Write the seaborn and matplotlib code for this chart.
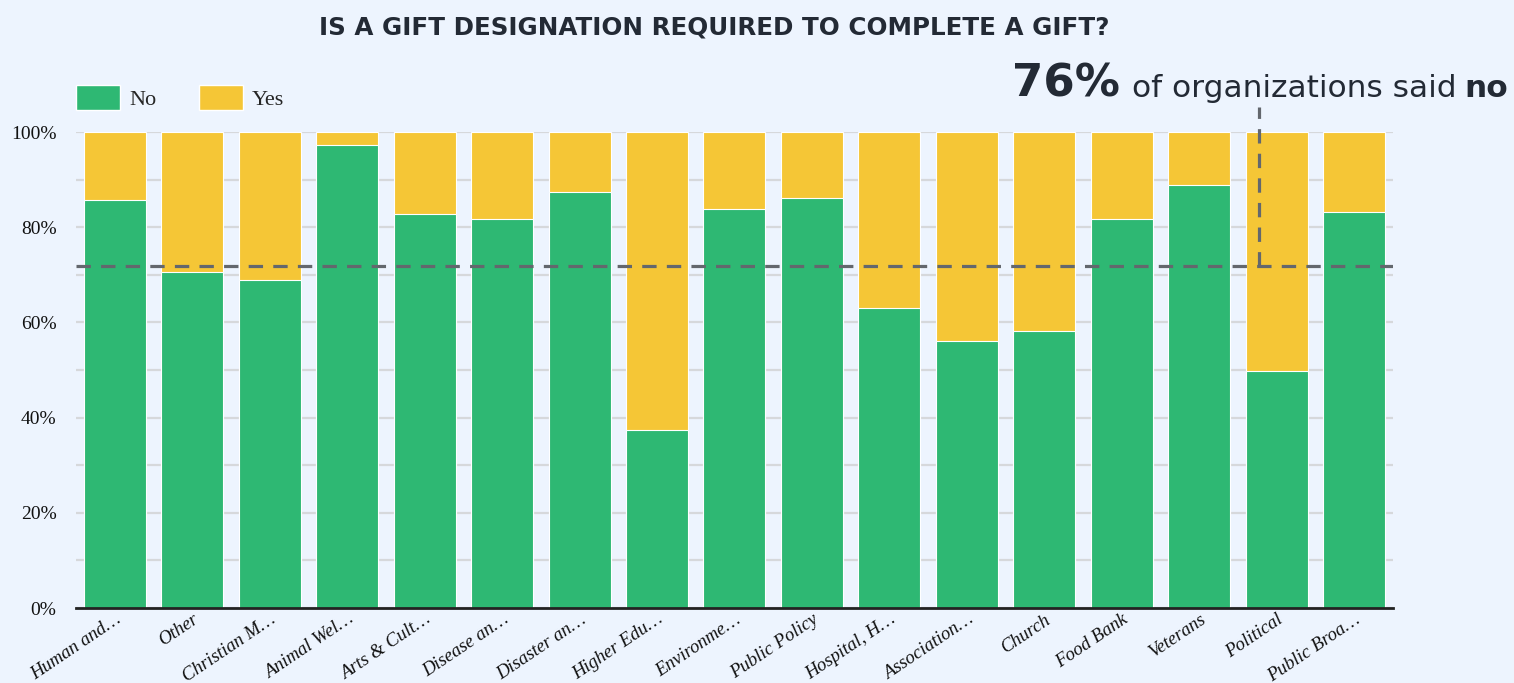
import matplotlib
matplotlib.use("Agg")
import matplotlib.pyplot as plt
import matplotlib.patches as mpatches
import seaborn as sns
import pandas as pd

categories = ["Human and…", "Other", "Christian M…", "Animal Wel…", "Arts & Cult…",
              "Disease an…", "Disaster an…", "Higher Edu…", "Environme…", "Public Policy",
              "Hospital, H…", "Association…", "Church", "Food Bank", "Veterans",
              "Political", "Public Broa…"]
no_values = [85.7, 70.6, 68.9, 97.3, 82.8, 81.7, 87.4, 37.4, 83.8, 86.1,
             63.0, 56.1, 58.2, 81.7, 88.9, 49.8, 83.2]
yes_values = [100 - v for v in no_values]
y_ticks = [0, 20, 40, 60, 80, 100]
y_tick_labels = ["0%", "20%", "40%", "60%", "80%", "100%"]
avg_line = 71.8
title = "IS A GIFT DESIGNATION REQUIRED TO COMPLETE A GIFT?"

df = pd.DataFrame({"category": categories, "No": no_values, "Yes": yes_values})
df["total"] = df["No"] + df["Yes"]

BG = "#EDF4FE"
GREEN = "#2EB873"
YELLOW = "#F5C636"
DARK = "#232A35"
SERIF = ["Liberation Serif", "DejaVu Serif"]
SANS = ["DejaVu Sans"]

sns.set_theme(style="white")
plt.rcParams["font.family"] = "serif"
plt.rcParams["font.serif"] = SERIF

fig = plt.figure(figsize=(15.14, 6.83), dpi=100, facecolor=BG)
ax = fig.add_axes([0.0502, 0.1098, 0.8698, 0.6969])
ax.set_facecolor(BG)

sns.barplot(data=df, x="category", y="total", color=YELLOW, width=0.8,
            edgecolor="white", linewidth=0.8, saturation=1, ax=ax)
sns.barplot(data=df, x="category", y="No", color=GREEN, width=0.8,
            edgecolor="white", linewidth=0.8, saturation=1, ax=ax)

ax.set_xlim(-0.5, len(categories) - 0.5)
ax.set_ylim(0, 100)
ax.set_yticks(y_ticks)
ax.set_yticklabels(y_tick_labels, fontsize=14, family=SERIF, color="#111111")
ax.set_yticks(list(range(10, 100, 20)), minor=True)
ax.grid(axis="y", which="both", color="#D6D8DB", linewidth=1.6)
ax.set_axisbelow(True)
ax.tick_params(axis="y", length=0, pad=14)
ax.tick_params(axis="x", length=0, pad=2)
ax.set_xticks(range(len(categories)))
ax.set_xticklabels(categories, rotation=34, ha="right", rotation_mode="anchor",
                   fontsize=13.5, style="italic", family=SERIF, color="#111111")
ax.set_xlabel("")
ax.set_ylabel("")
for s in ["top", "right", "left"]:
    ax.spines[s].set_visible(False)
ax.spines["bottom"].set_color("#222222")
ax.spines["bottom"].set_linewidth(2)

# average dashed line
ax.axhline(avg_line, color="#63676D", linewidth=2.3, linestyle=(0, (4.5, 3.2)), zorder=5)
ax.plot([14.77, 14.77], [avg_line, 105.3], color="#63676D", linewidth=2.3,
        linestyle=(0, (4.5, 3.2)), clip_on=False, zorder=5)

# legend
handles = [mpatches.Patch(facecolor=GREEN, edgecolor="white", label="No"),
           mpatches.Patch(facecolor=YELLOW, edgecolor="white", label="Yes")]
fig.legend(handles=handles, loc="upper left", bbox_to_anchor=(0.037, 0.905),
           ncol=2, frameon=False, prop={"family": SERIF, "size": 16},
           handlelength=2.0, handleheight=1.35,
           columnspacing=1.9, handletextpad=0.4)

fig.text(0.472, 0.96, title, ha="center", va="center", fontsize=17.7,
         fontweight="bold", color=DARK, family=SANS)

t2 = fig.text(0.996, 0.858, "no", ha="right", va="baseline", fontsize=22.5,
              fontweight="bold", color=DARK, family=SANS)
fig.canvas.draw()
r = fig.canvas.get_renderer()
bb = t2.get_window_extent(r)
x2 = fig.transFigure.inverted().transform((bb.x0, 0))[0]
t1 = fig.text(x2 - 0.005, 0.858, "of organizations said", ha="right", va="baseline",
              fontsize=22.5, color=DARK, family=SANS)
bb = t1.get_window_extent(r)
x1 = fig.transFigure.inverted().transform((bb.x0, 0))[0]
fig.text(x1 - 0.008, 0.858, "76%", ha="right", va="baseline", fontsize=32.5,
         fontweight="heavy", color=DARK, family=SANS)

fig.savefig("out.png", dpi=100, facecolor=BG)
